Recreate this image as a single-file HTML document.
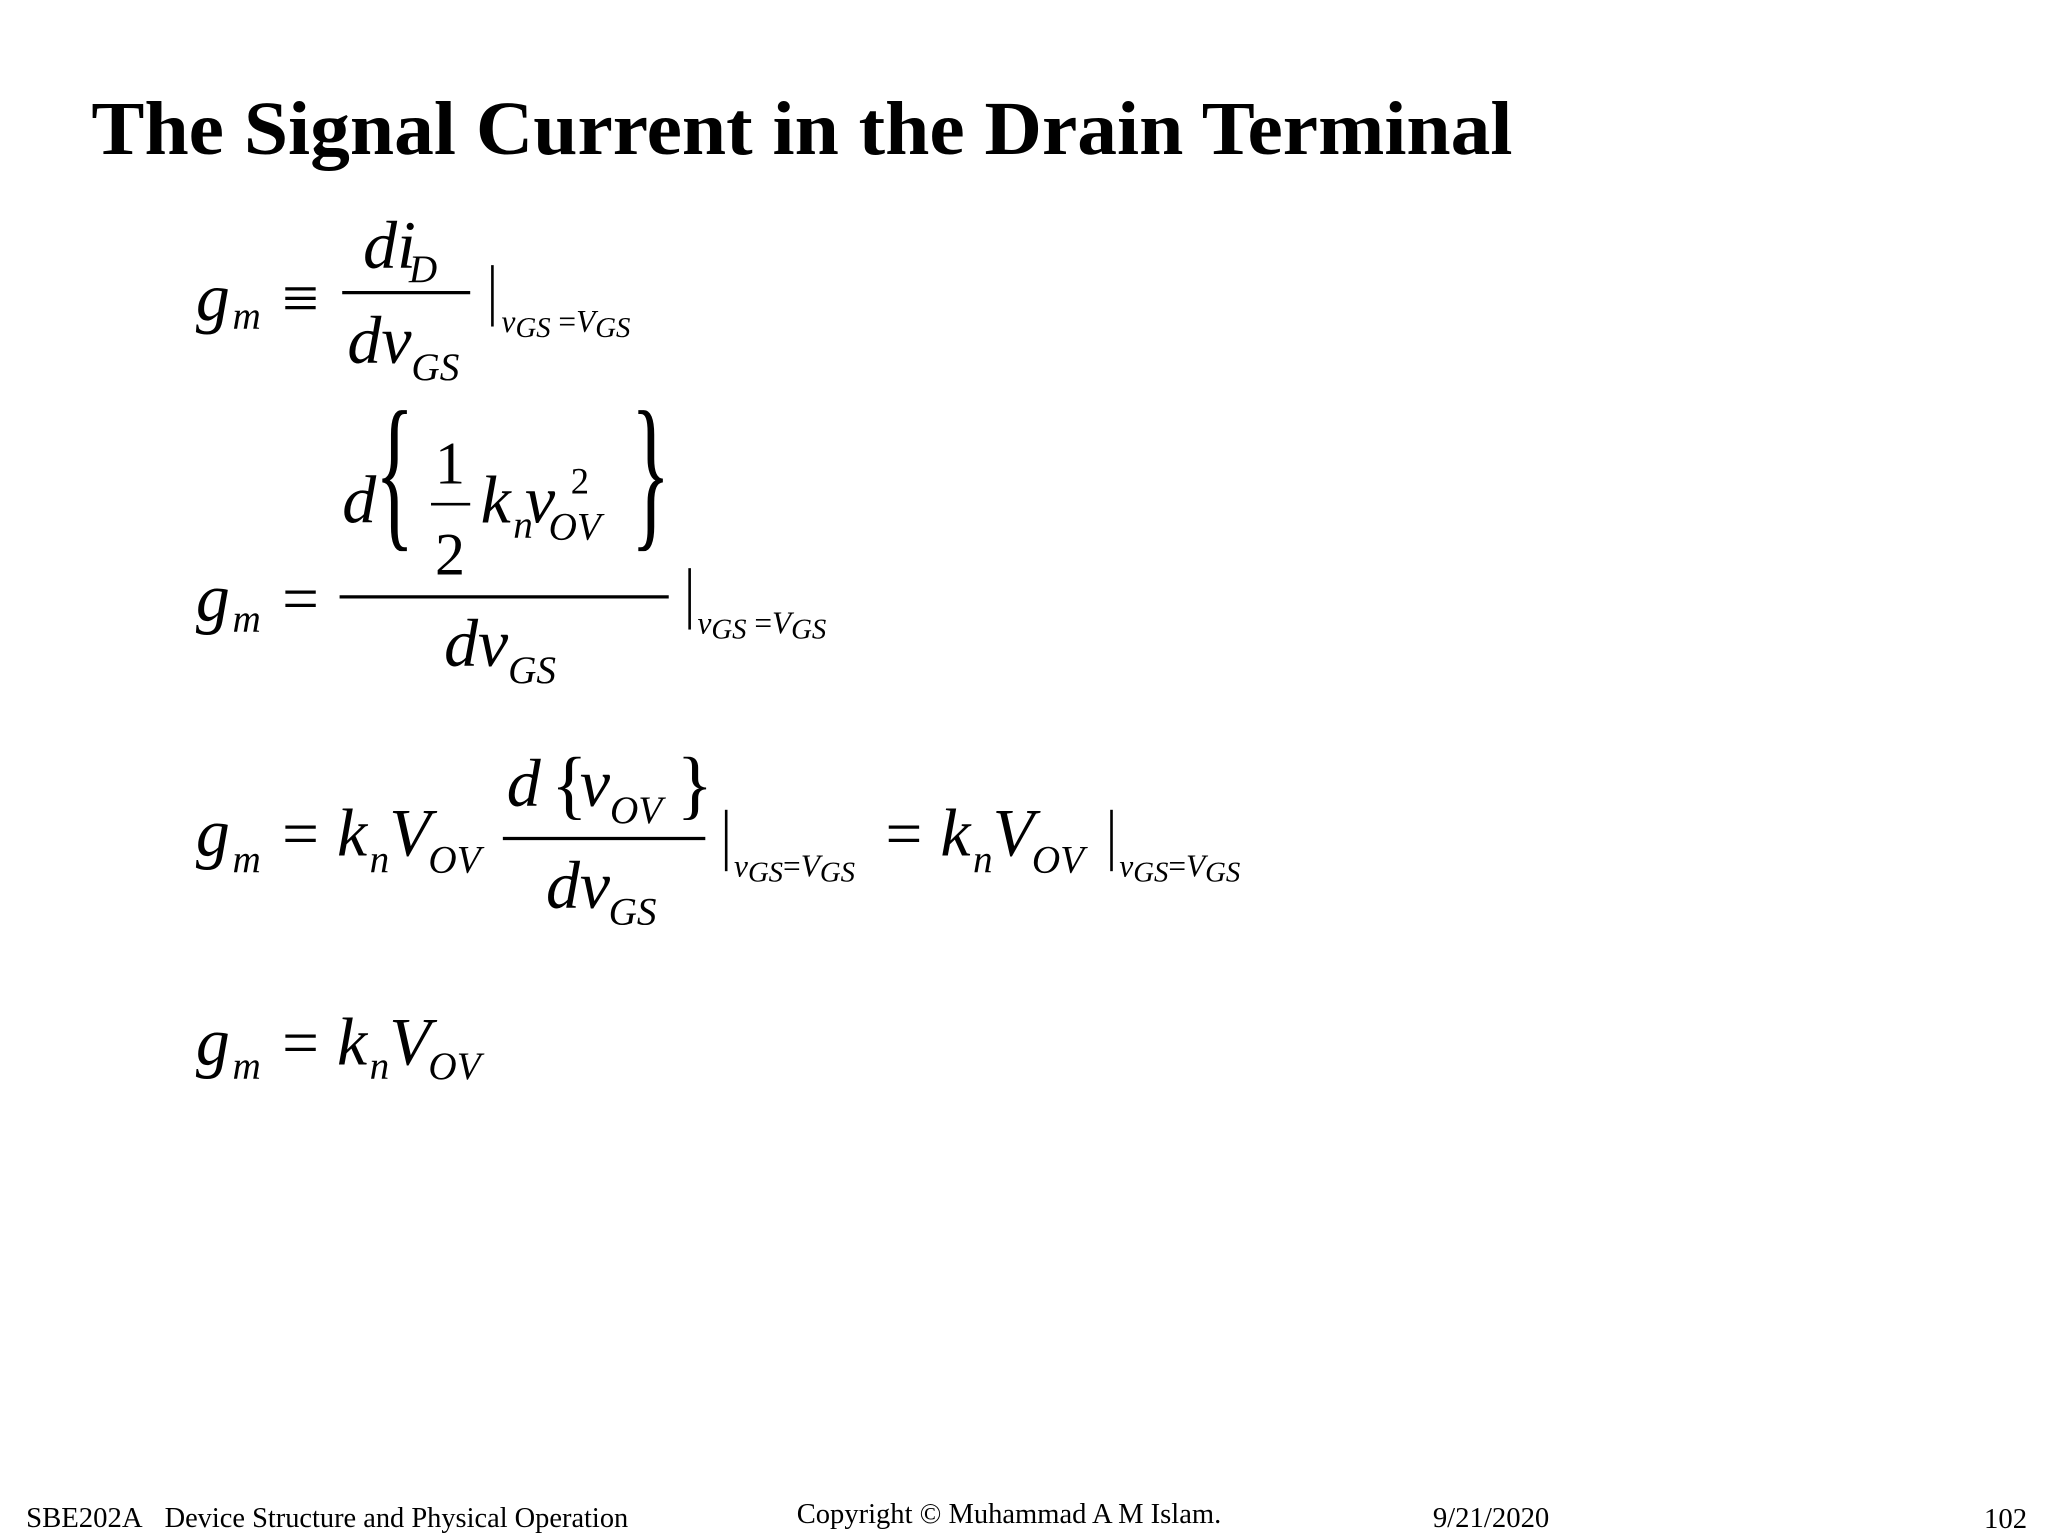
<!DOCTYPE html>
<html><head><meta charset="utf-8"><style>
html,body{margin:0;padding:0;background:#fff;width:2048px;height:1536px;overflow:hidden}
svg{display:block}
text{font-family:"Liberation Serif",serif;fill:#000}
.i{font-style:italic}
</style></head><body>
<svg width="2048" height="1536" viewBox="0 0 1568 1176" preserveAspectRatio="none">
<text x="70" y="118" font-size="58" font-weight="bold" textLength="1088" lengthAdjust="spacingAndGlyphs">The Signal Current in the Drain Terminal</text>

<!-- eq1 -->
<text x="150" y="245" font-size="52" class="i">g</text>
<text x="178" y="252" font-size="30" class="i">m</text>
<text x="216" y="245" font-size="50">≡</text>
<text x="278" y="205" font-size="52" class="i">di</text>
<text x="313" y="216" font-size="30" class="i">D</text>
<line x1="262" y1="224" x2="360" y2="224" stroke="#000" stroke-width="2.5"/>
<text x="266" y="278" font-size="52" class="i">dv</text>
<text x="315" y="291" font-size="30" class="i">GS</text>
<line x1="377" y1="203" x2="377" y2="250" stroke="#000" stroke-width="2"/>
<text x="384" y="254" font-size="24" class="i">v<tspan dy="4" font-size="22">GS</tspan><tspan dy="-4" font-style="normal"> =</tspan>V<tspan dy="4" font-size="22">GS</tspan></text>

<!-- eq2 -->
<text x="150" y="475" font-size="52" class="i">g</text>
<text x="178" y="484" font-size="30" class="i">m</text>
<text x="216" y="475" font-size="50">=</text>
<text x="262" y="400" font-size="52" class="i">d</text>
<text x="287" y="405" font-size="90" transform="scale(0.7 1.45) translate(123 -126)">{</text>
<text x="333" y="370" font-size="46">1</text>
<line x1="330" y1="386" x2="360" y2="386" stroke="#000" stroke-width="2"/>
<text x="333" y="440" font-size="46">2</text>
<text x="368" y="400" font-size="52" class="i">k</text>
<text x="393" y="412" font-size="30" class="i">n</text>
<text x="402" y="400" font-size="52" class="i">v</text>
<text x="437" y="378" font-size="28">2</text>
<text x="420" y="413" font-size="30" class="i">OV</text>
<text x="483" y="405" font-size="90" transform="scale(0.7 1.45) translate(207 -126)">}</text>
<line x1="260" y1="457" x2="512" y2="457" stroke="#000" stroke-width="2.5"/>
<text x="340" y="510" font-size="52" class="i">dv</text>
<text x="389" y="523" font-size="30" class="i">GS</text>
<line x1="528" y1="435" x2="528" y2="482" stroke="#000" stroke-width="2"/>
<text x="534" y="485" font-size="24" class="i">v<tspan dy="4" font-size="22">GS</tspan><tspan dy="-4" font-style="normal"> =</tspan>V<tspan dy="4" font-size="22">GS</tspan></text>

<!-- eq3 -->
<text x="150" y="655" font-size="52" class="i">g</text>
<text x="178" y="668" font-size="30" class="i">m</text>
<text x="216" y="655" font-size="50">=</text>
<text x="258" y="655" font-size="52" class="i">k</text>
<text x="283" y="668" font-size="30" class="i">n</text>
<text x="298" y="655" font-size="52" class="i">V</text>
<text x="328" y="668" font-size="30" class="i">OV</text>
<text x="388" y="617" font-size="52" class="i">d</text>
<text x="422" y="620" font-size="58">{</text>
<text x="444" y="617" font-size="52" class="i">v</text>
<text x="467" y="630" font-size="30" class="i">OV</text>
<text x="518" y="620" font-size="58">}</text>
<line x1="385" y1="642" x2="540" y2="642" stroke="#000" stroke-width="2.5"/>
<text x="418" y="695" font-size="52" class="i">dv</text>
<text x="466" y="708" font-size="30" class="i">GS</text>
<line x1="556" y1="620" x2="556" y2="667" stroke="#000" stroke-width="2"/>
<text x="562" y="671" font-size="24" class="i">v<tspan dy="4" font-size="22">GS</tspan><tspan dy="-4" font-style="normal">=</tspan>V<tspan dy="4" font-size="22">GS</tspan></text>
<text x="678" y="655" font-size="50">=</text>
<text x="720" y="655" font-size="52" class="i">k</text>
<text x="745" y="668" font-size="30" class="i">n</text>
<text x="760" y="655" font-size="52" class="i">V</text>
<text x="790" y="668" font-size="30" class="i">OV</text>
<line x1="851" y1="620" x2="851" y2="667" stroke="#000" stroke-width="2"/>
<text x="857" y="671" font-size="24" class="i">v<tspan dy="4" font-size="22">GS</tspan><tspan dy="-4" font-style="normal">=</tspan>V<tspan dy="4" font-size="22">GS</tspan></text>

<!-- eq4 -->
<text x="150" y="815" font-size="52" class="i">g</text>
<text x="178" y="826" font-size="30" class="i">m</text>
<text x="216" y="815" font-size="50">=</text>
<text x="258" y="815" font-size="52" class="i">k</text>
<text x="283" y="826" font-size="30" class="i">n</text>
<text x="298" y="815" font-size="52" class="i">V</text>
<text x="328" y="826" font-size="30" class="i">OV</text>

<!-- footer -->
<text x="20" y="1169" font-size="22">SBE202A</text>
<text x="126" y="1169" font-size="22" textLength="355" lengthAdjust="spacingAndGlyphs">Device Structure and Physical Operation</text>
<text x="610" y="1166" font-size="22" textLength="325" lengthAdjust="spacingAndGlyphs">Copyright © Muhammad A M Islam.</text>
<text x="1097" y="1169" font-size="22">9/21/2020</text>
<text x="1519" y="1170" font-size="22">102</text>
</svg>
</body></html>
